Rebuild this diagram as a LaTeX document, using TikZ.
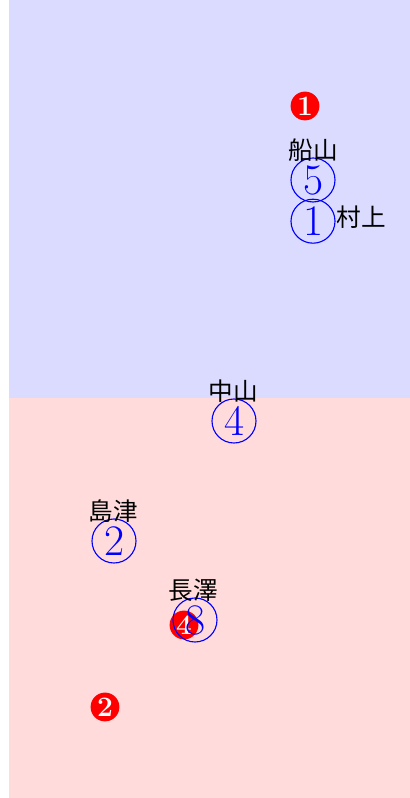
\documentclass[tikz,border=0pt]{standalone}
\usepackage{fontspec}
\newfontfamily\jpfont{Noto Sans CJK JP}
\tikzset{
    pick/.style={circle, draw=blue, line width=0.8pt, text=blue, minimum size=1.1cm, inner sep=0pt, font=\fontsize{31}{31}\selectfont},
    mark red/.style={circle, fill=red, text=white, minimum size=0.72cm, inner sep=0pt, font=\fontsize{20}{20}\selectfont\bfseries},
    who/.style={inner sep=0pt, font=\jpfont\fontsize{17.5}{20}\selectfont}
}
\begin{document}
\begin{tikzpicture}
        \useasboundingbox (0,0) rectangle (10.25,19.95);
        % two halves
        \fill[blue!14] (0.225,10) rectangle (10.25,19.95);
        \fill[red!14] (0.225,0) rectangle (10.25,10);
        % red marks
        \node[mark red] (m1) at (7.625,17.3) {1};
        \node[mark red] (m2) at (2.625,2.275) {2};
        \node[mark red] (m4) at (4.6,4.325) {4};
        % picks and names
        \node[pick] (p5) at (7.825,15.45) {5};
        \node[who] (funayama) at (7.825,16.2) {船山};
        \node[pick] (p1) at (7.825,14.42) {1};
        \node[who] (murakami) at (9.025,14.525) {村上};
        \node[pick] (p4) at (5.85,9.425) {4};
        \node[who] (nakayama) at (5.825,10.175) {中山};
        \node[pick] (p2) at (2.85,6.425) {2};
        \node[who] (shimazu) at (2.825,7.175) {島津};
        \node[pick] (p8) at (4.875,4.45) {8};
        \node[who] (nagasawa) at (4.825,5.2) {長澤};
    \end{tikzpicture}
\end{document}
